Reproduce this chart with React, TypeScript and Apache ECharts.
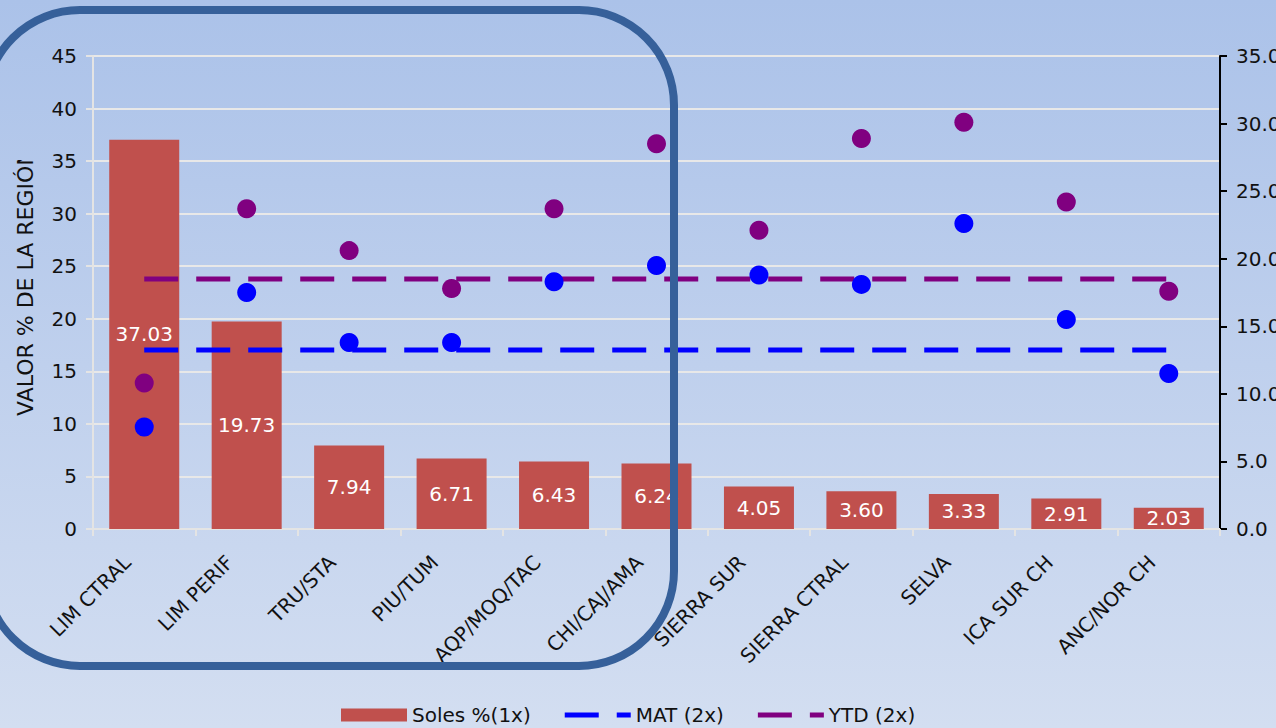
import React, { useEffect, useRef } from "react";
import * as echarts from "echarts";

const categories = [
  "LIM CTRAL",
  "LIM PERIF",
  "TRU/STA",
  "PIU/TUM",
  "AQP/MOQ/TAC",
  "CHI/CAJ/AMA",
  "SIERRA SUR",
  "SIERRA CTRAL",
  "SELVA",
  "ICA SUR CH",
  "ANC/NOR CH",
];
const solesValues = [37.03, 19.73, 7.94, 6.71, 6.43, 6.24, 4.05, 3.6, 3.33, 2.91, 2.03];
const matValues = [7.55, 17.5, 13.8, 13.8, 18.3, 19.5, 18.8, 18.1, 22.6, 15.5, 11.5];
const ytdValues = [10.8, 23.7, 20.6, 17.8, 23.7, 28.5, 22.1, 28.9, 30.1, 24.2, 17.6];
const matAverage = 13.25;
const ytdAverage = 18.5;
const leftTicks = { min: 0, max: 45, interval: 5 };
const rightTicks = { min: 0, max: 35, interval: 5 };

const FONT = "DejaVu Sans";
const DASH_ICON = "path://M0,0H34V5H0ZM52,0H66V5H52Z";

function pointSeries(name: string, values: number[], color: string) {
  return {
    name,
    type: "custom",
    yAxisIndex: 1,
    data: values.map((v, i) => [i, v]),
    encode: { x: 0, y: 1 },
    renderItem: (params: any, api: any) => {
      const p = api.coord([api.value(0), api.value(1)]);
      return {
        type: "circle",
        shape: { cx: p[0], cy: p[1], r: 9.5 },
        style: { fill: color, stroke: null, lineWidth: 0 },
      };
    },
    silent: true,
    z: 4,
  };
}

export default function App() {
  const ref = useRef<HTMLDivElement>(null);

  useEffect(() => {
    if (!ref.current) return;
    const chart = echarts.init(ref.current, undefined, { renderer: "svg" });
    const bg = () =>
      new echarts.graphic.LinearGradient(
        0,
        0,
        0,
        728,
        [
          { offset: 0, color: "#abc2e9" },
          { offset: 1, color: "#d3def1" },
        ],
        true
      );

    const option: any = {
      animation: false,
      backgroundColor: bg(),
      textStyle: { fontFamily: FONT },
      grid: {
        left: 93,
        right: 56,
        top: 56,
        bottom: 199,
        containLabel: false,
        outerBoundsMode: "none",
      },
      legend: {
        data: [
          { name: "Soles %(1x)", icon: "rect" },
          { name: "MAT (2x)", icon: DASH_ICON },
          { name: "YTD (2x)", icon: DASH_ICON },
        ],
        left: 336,
        top: 700,
        itemWidth: 66,
        itemHeight: 13,
        itemGap: 34,
        symbolKeepAspect: true,
        textStyle: { fontFamily: FONT, fontSize: 20, color: "#111" },
      },
      xAxis: {
        type: "category",
        data: categories,
        axisLine: { lineStyle: { color: "#e4e4e4", width: 2 } },
        axisTick: { show: true, length: 7, lineStyle: { color: "#e4e4e4", width: 2 } },
        axisLabel: {
          rotate: 45,
          interval: 0,
          margin: 13,
          padding: [0, 24, 0, 0],
          fontFamily: FONT,
          fontSize: 20,
          color: "#111",
        },
      },
      yAxis: [
        {
          type: "value",
          ...leftTicks,
          position: "left",
          axisLine: { show: true, lineStyle: { color: "#e4e4e4", width: 2 } },
          axisTick: { show: true, length: 7, lineStyle: { color: "#e4e4e4", width: 2 } },
          axisLabel: { margin: 16, fontFamily: FONT, fontSize: 20, color: "#111" },
          splitLine: { show: true, lineStyle: { color: "#e8e8e8", width: 2 } },
        },
        {
          type: "value",
          ...rightTicks,
          position: "right",
          axisLine: { show: true, lineStyle: { color: "#000", width: 2 } },
          axisTick: { show: true, length: 7, lineStyle: { color: "#000", width: 2 } },
          axisLabel: {
            margin: 16,
            fontFamily: FONT,
            fontSize: 20,
            color: "#111",
            formatter: (v: number) => v.toFixed(1),
          },
          splitLine: { show: false },
        },
      ],
      series: [
        {
          name: "Soles %(1x)",
          type: "bar",
          data: solesValues,
          barWidth: 70,
          itemStyle: { color: "#c0504d" },
          label: {
            show: true,
            position: "inside",
            color: "#fff",
            fontFamily: FONT,
            fontSize: 20,
            formatter: (p: any) => Number(p.value).toFixed(2),
          },
          z: 2,
        },
        {
          name: "MAT (2x)",
          type: "line",
          yAxisIndex: 1,
          data: categories.map(() => matAverage),
          symbol: "none",
          lineStyle: { color: "#0000ff", width: 5, type: [34, 18] },
          itemStyle: { color: "#0000ff" },
          z: 3,
        },
        {
          name: "YTD (2x)",
          type: "line",
          yAxisIndex: 1,
          data: categories.map(() => ytdAverage),
          symbol: "none",
          lineStyle: { color: "#800080", width: 5, type: [34, 18] },
          itemStyle: { color: "#800080" },
          z: 3,
        },
        pointSeries("MAT points", matValues, "#0000ff"),
        pointSeries("YTD points", ytdValues, "#800080"),
      ],
      graphic: [
        {
          type: "text",
          x: 25,
          y: 416,
          rotation: Math.PI / 2,
          z: 10,
          style: {
            text: "VALOR % DE LA REGIÓN",
            fontFamily: FONT,
            fontSize: 22,
            fill: "#111",
            align: "left",
            verticalAlign: "middle",
          },
        },
        {
          type: "rect",
          z: 11,
          shape: { x: 10, y: 80, width: 32, height: 80 },
          style: { fill: bg() },
        },
        {
          type: "rect",
          z: 20,
          shape: { x: -15, y: 10, width: 689, height: 656, r: 95 },
          style: { fill: "none", stroke: "#36609a", lineWidth: 8 },
        },
      ],
    };

    chart.setOption(option);
    return () => chart.dispose();
  }, []);

  return (
    <div
      ref={ref}
      style={{ position: "absolute", left: 0, top: 0, width: 1276, height: 728 }}
    />
  );
}
